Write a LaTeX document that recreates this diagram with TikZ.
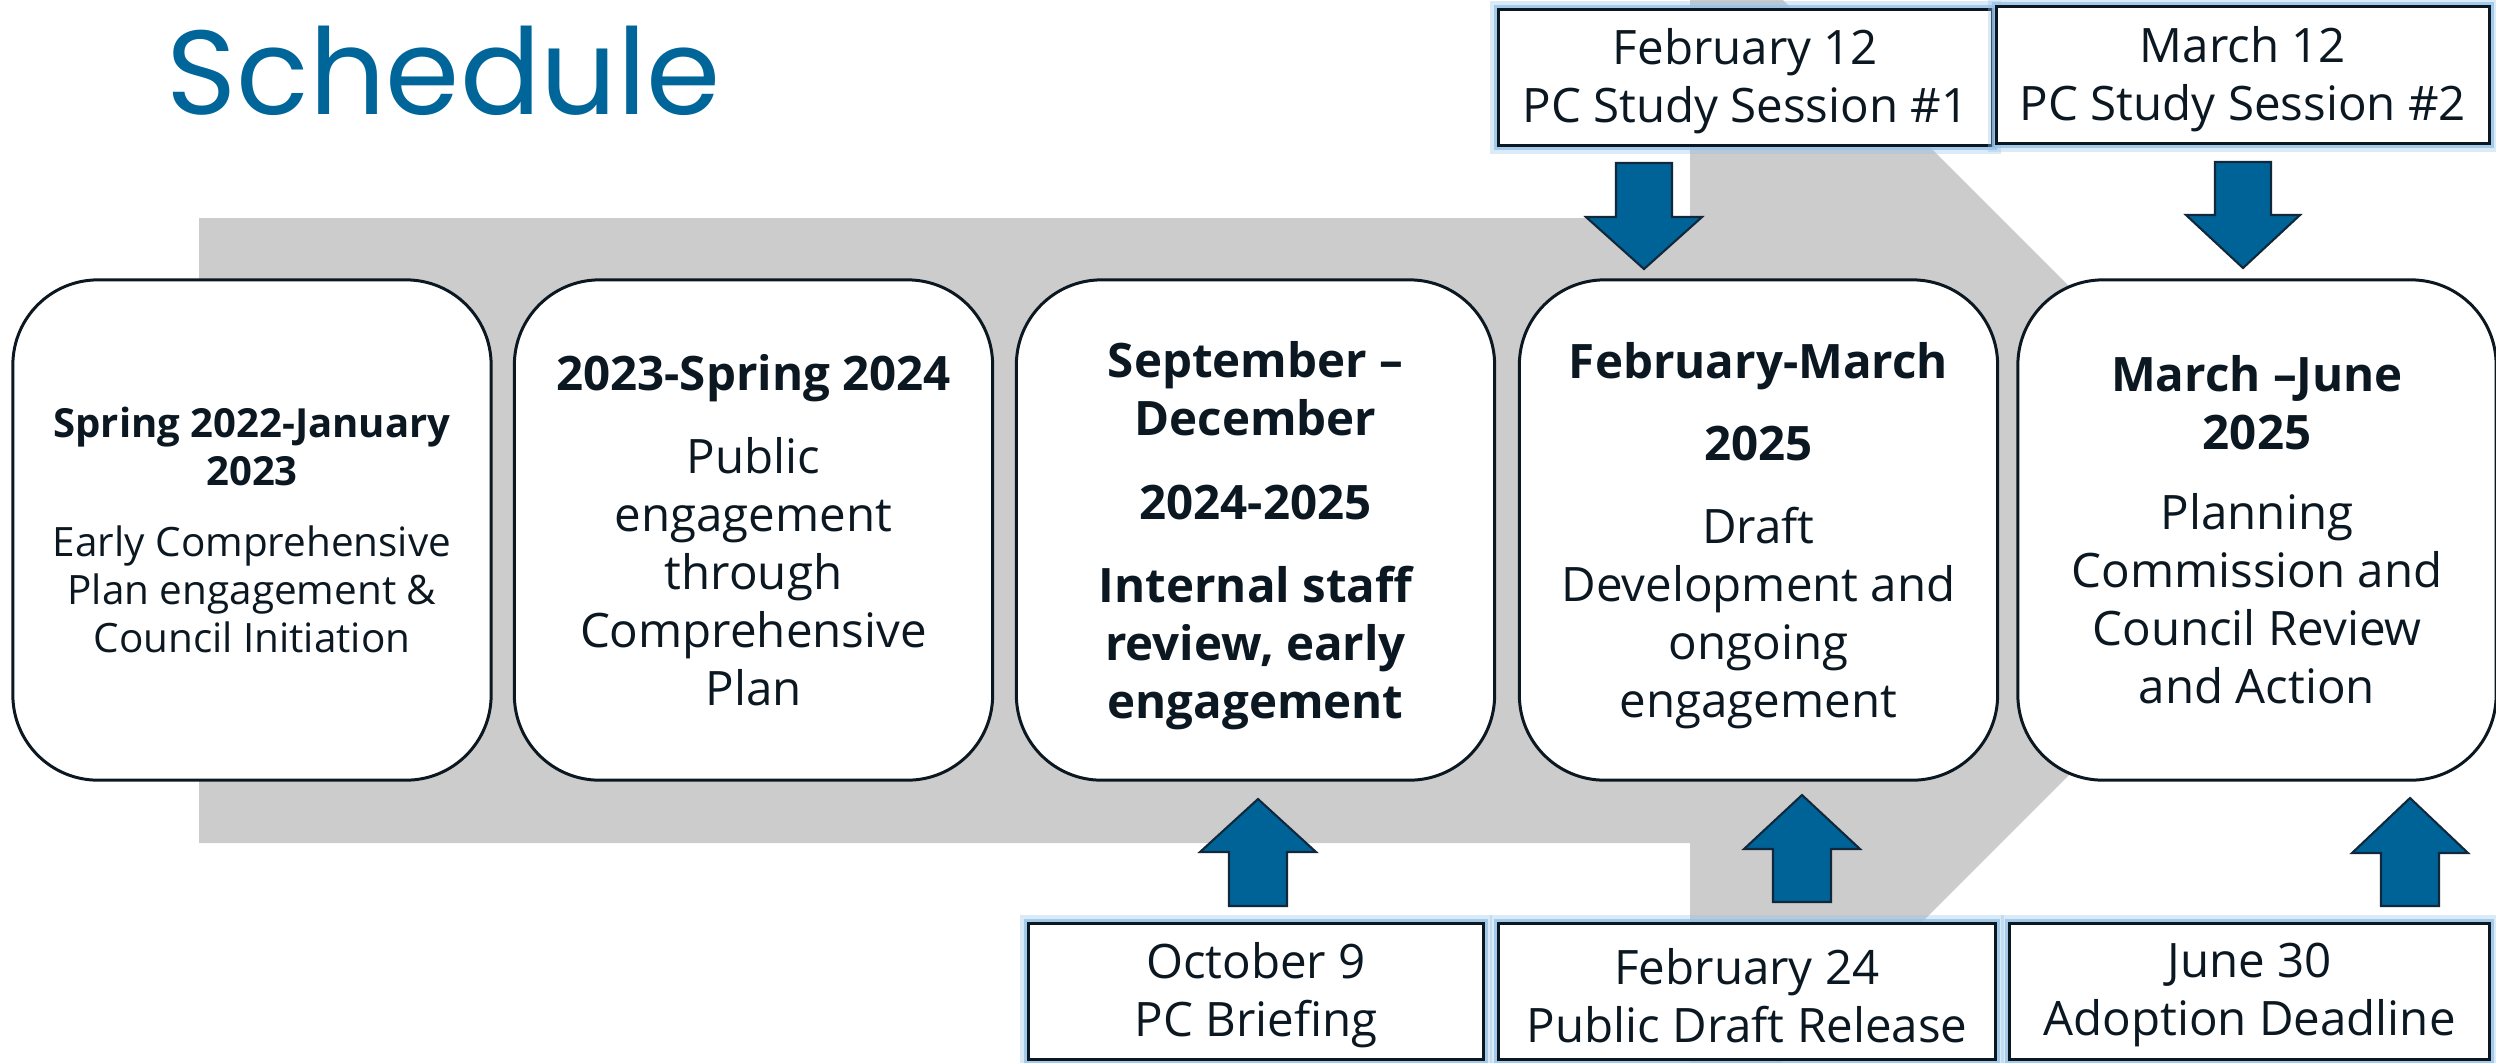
\documentclass[tikz,border=0pt]{standalone}
\usepackage{fontspec}
\setmainfont{Open Sans}
\newfontfamily\titlefont{Poppins}
\definecolor{gbar}{RGB}{204,204,204}
\definecolor{inkc}{RGB}{12,24,33}
\definecolor{titleblue}{RGB}{0,101,153}
\definecolor{arrowblue}{RGB}{0,99,152}
\definecolor{arrowline}{RGB}{16,40,60}
\definecolor{glowc}{RGB}{150,194,232}
\newcommand\phsmallbold{\fontsize{11.4}{13.66}\selectfont\bfseries}
\begin{document}
\begin{tikzpicture}[x=0.01cm,y=-0.01cm,
  phase/.style={draw=inkc, line width=0.85pt, fill=white, rounded corners=0.85cm,
    minimum width=4.78cm, minimum height=5cm, inner sep=0pt},
  phasetext/.style={inner sep=0pt, align=center, text=inkc},
  milestone/.style={draw=inkc, line width=0.85pt, fill=white, inner sep=0pt,
    preaction={draw=glowc, line width=5pt, draw opacity=0.35},
    preaction={draw=glowc, line width=2.6pt, draw opacity=0.8}},
  mtext/.style={inner sep=0pt, align=center, text=inkc, font=\fontsize{13.5}{16.5}\selectfont},
  blockarrow/.style={fill=arrowblue, draw=arrowline, line width=0.6pt, line join=miter}]
\useasboundingbox (0,0) rectangle (2496,1062);
\begin{scope}
  \clip (0,0) rectangle (2496,1062);
  \fill[gbar] (199,218) -- (1690,218) -- (1690,-93) -- (2313.5,530.5) -- (1690,1154)
    -- (1690,843) -- (199,843) -- cycle;
\end{scope}

\node[anchor=base west, inner sep=0pt, text=titleblue,
  font=\titlefont\fontsize{34}{40}\selectfont] (title) at (166,114) {Schedule};

% phase boxes
\node[phase] (p1) at (252,530) {};
\node[phase] (p2) at (753.5,530) {};
\node[phase] (p3) at (1255.5,530) {};
\node[phase] (p4) at (1758.5,530) {};
\node[phase] (p5) at (2257,530) {};

\node[phasetext, font=\fontsize{11.5}{13.66}\selectfont] (t1) at (p1.center)
  {{\phsmallbold Spring 2022-January}\\{\phsmallbold 2023}\\[6.5pt]
   Early Comprehensive\\Plan engagement \&\\Council Initiation};
\node[phasetext, font=\fontsize{13.5}{16.5}\selectfont] (t2) at (p2.center)
  {{\bfseries 2023-Spring 2024}\\[7.1pt]Public\\engagement\\through\\Comprehensive\\Plan};
\node[phasetext, font=\fontsize{13.5}{16.5}\selectfont\bfseries] (t3) at ([yshift=-1.5pt]p3.center)
  {September --\\December\\[7.4pt]2024-2025\\[7.1pt]Internal staff\\review, early\\engagement};
\node[phasetext, font=\fontsize{13.5}{16.5}\selectfont] (t4) at ([yshift=-1.6pt]p4.center)
  {{\bfseries February-March}\\[6.6pt]{\bfseries 2025}\\[7.1pt]Draft\\Development and\\ongoing\\engagement};
\node[phasetext, font=\fontsize{13.5}{16.5}\selectfont] (t5) at (p5.center)
  {{\bfseries March --June}\\{\bfseries 2025}\\[6.3pt]Planning\\Commission and\\Council Review\\and Action};

% milestone boxes
\node[milestone, minimum width=4.93cm, minimum height=1.35cm] (m1) at (1745.5,77.5) {};
\node[milestone, minimum width=4.92cm, minimum height=1.36cm] (m2) at (2243,75) {};
\node[milestone, minimum width=4.54cm, minimum height=1.35cm] (m3) at (1256,991.5) {};
\node[milestone, minimum width=4.96cm, minimum height=1.35cm] (m4) at (1747,991.5) {};
\node[milestone, minimum width=4.79cm, minimum height=1.35cm] (m5) at (2249.5,991.5) {};

\node[mtext] (l1) at ([yshift=-1.1pt]m1.center) {February 12\\PC Study Session \#1};
\node[mtext] (l2) at ([yshift=-1.1pt]m2.center) {March 12\\PC Study Session \#2};
\node[mtext] (l3) at ([yshift=-1.1pt]m3.center) {October 9\\PC Briefing};
\node[mtext] (l4) at ([yshift=-1.1pt]m4.center) {February 24\\Public Draft Release};
\node[mtext] (l5) at ([yshift=-1.1pt]m5.center) {June 30\\Adoption Deadline};

% block arrows
\draw[blockarrow] (1616,163) -- (1672,163) -- (1672,217) -- (1702,217) -- (1644,269)
  -- (1586,217) -- (1616,217) -- cycle;
\draw[blockarrow] (2215,162) -- (2271,162) -- (2271,215) -- (2300,215) -- (2243,268)
  -- (2186,215) -- (2215,215) -- cycle;
\draw[blockarrow] (1229,906) -- (1287,906) -- (1287,852) -- (1316,852) -- (1258,799)
  -- (1200,852) -- (1229,852) -- cycle;
\draw[blockarrow] (1773,902) -- (1831,902) -- (1831,849) -- (1860,849) -- (1802,795)
  -- (1744,849) -- (1773,849) -- cycle;
\draw[blockarrow] (2381,906) -- (2439,906) -- (2439,853) -- (2468,853) -- (2410,798)
  -- (2352,853) -- (2381,853) -- cycle;
\end{tikzpicture}
\end{document}
